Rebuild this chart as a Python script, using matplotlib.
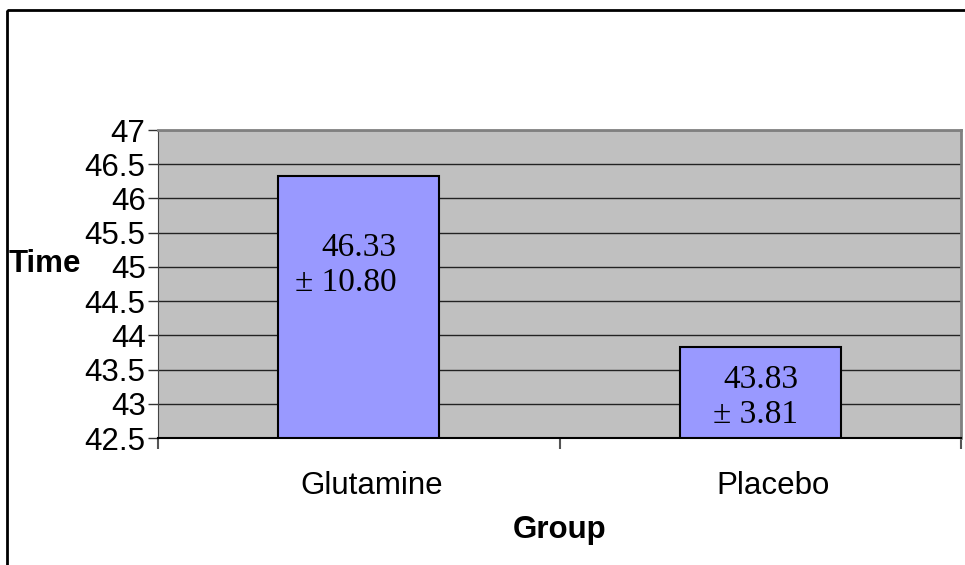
import numpy as np
import matplotlib.pyplot as plt
import matplotlib.transforms as mtransforms
from matplotlib.patches import Rectangle

groups = ['Glutamine', 'Placebo']
means = [46.33, 43.83]
sds = [10.80, 3.81]
yticks = [42.5, 43, 43.5, 44, 44.5, 45, 45.5, 46, 46.5, 47]

W, H = 965, 565
fig = plt.figure(figsize=(W / 100, H / 100), dpi=100)

# outer chart border (only top and left show, the rest is cut off)
fig.patches.append(Rectangle((7 / W, 1 - 10 / H), 2, -2, transform=fig.transFigure,
                             fill=False, edgecolor='black', linewidth=2))

ax = fig.add_axes([158 / W, 1 - 438 / H, (961 - 158) / W, (438 - 130) / H])
ax.set_facecolor('#C0C0C0')

x = np.arange(len(groups))
ax.bar(x, [m - 42.5 for m in means], bottom=42.5, width=0.4,
       color='#9999FF', edgecolor='black', linewidth=1.5, zorder=3)

ax.set_ylim(42.5, 47)
ax.set_xlim(-0.5, len(groups) - 0.5)
ax.set_yticks(yticks)
ax.set_yticklabels([f'{t:g}' for t in yticks], fontsize=22.5, fontfamily='Liberation Sans')
ax.yaxis.grid(True, color='#222222', linewidth=1, zorder=1)
ax.set_axisbelow(True)

# categories labelled at centres, tick marks between categories
ax.set_xticks(x)
ax.set_xticklabels(groups, fontsize=22.5, fontfamily='Liberation Sans')
ax.tick_params(axis='x', length=0, pad=24)
ax.set_xticks(np.arange(-0.5, len(groups)), minor=True)
ax.tick_params(axis='x', which='minor', length=8, color='#555555', width=1.5)
ax.tick_params(axis='y', length=7, color='#333333', width=1, pad=2)

# category labels sit a little right of the bar centres
shift = mtransforms.ScaledTranslation(13 / 100, 0, fig.dpi_scale_trans)
for lbl in ax.get_xticklabels():
    lbl.set_transform(lbl.get_transform() + shift)

for s in ['top', 'right']:
    ax.spines[s].set_color('#808080')
    ax.spines[s].set_linewidth(2)
ax.spines['left'].set_color('#444444')
ax.spines['bottom'].set_color('black')
ax.spines['bottom'].set_linewidth(1.5)

label_y = [45.02, 43.09]
txt_shift = ax.transData + mtransforms.ScaledTranslation(38 / 100, 0, fig.dpi_scale_trans)
for xi, m, s, ly in zip(x, means, sds, label_y):
    ax.text(xi, ly, f'{m:.2f}\n\u00b1 {s:.2f}', ha='right', va='center',
            multialignment='right', transform=txt_shift,
            fontsize=24, fontfamily='Liberation Serif', linespacing=1.2, zorder=4)

ax.set_xlabel('Group', fontsize=22.5, fontweight='bold', fontfamily='Liberation Sans', labelpad=10)
fig.text(9 / W, 1 - 264 / H, 'Time', fontsize=22.5, fontweight='bold',
         fontfamily='Liberation Sans', ha='left', va='center')

fig.savefig('out.png', dpi=100)
